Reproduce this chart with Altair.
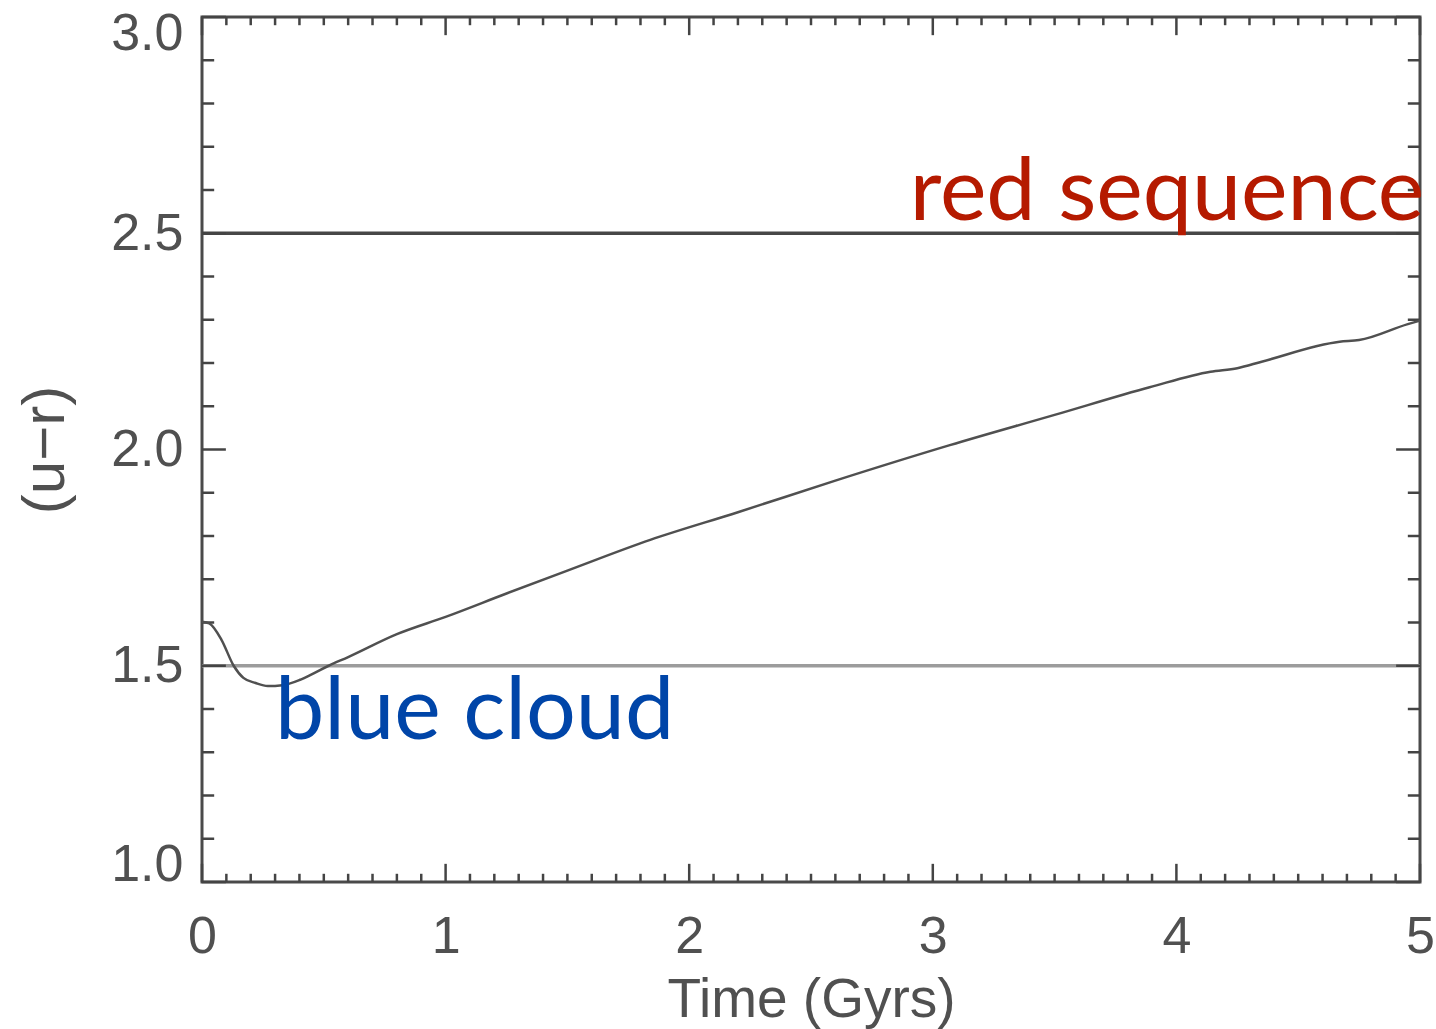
import altair as alt
import pandas as pd

# ---- data ----
time_gyr = [0.0, 0.03, 0.08, 0.13, 0.17, 0.22, 0.27, 0.33, 0.40, 0.45, 0.52, 0.60,
            0.80, 1.0, 1.25, 1.5, 1.84, 2.2, 2.6, 3.07, 3.5, 3.89, 4.14, 4.25,
            4.35, 4.67, 4.75, 4.95, 5.0]
u_minus_r = [1.602, 1.598, 1.56, 1.50, 1.472, 1.46, 1.453, 1.455, 1.467, 1.48, 1.50, 1.52,
             1.573, 1.613, 1.667, 1.72, 1.791, 1.855, 1.928, 2.010, 2.08, 2.144, 2.180, 2.188,
             2.203, 2.249, 2.253, 2.290, 2.298]

threshold_vals = [2.5, 1.5]
threshold_cols = ["#474747", "#9c9c9c"]

label_text = ["red sequence", "blue cloud"]
label_x = [2.905, 0.30]
label_y = [2.531, 1.331]
label_col = ["#B51A00", "#0045A8"]

x_major = [0, 1, 2, 3, 4, 5]
y_major = [1.0, 1.5, 2.0, 2.5, 3.0]
x_minor = [round(i / 10, 1) for i in range(1, 50) if i % 10 != 0]
y_minor = [round(1 + i / 10, 1) for i in range(1, 20) if i % 5 != 0]

X0, X1, Y0, Y1 = 0.0, 5.0, 1.0, 3.0
XMIN_LEN, XMAJ_LEN = 0.019, 0.042    # tick lengths for x ticks (in y data units)
YMIN_LEN, YMAJ_LEN = 0.05, 0.098     # tick lengths for y ticks (in x data units)

xs = alt.Scale(domain=[X0, X1], nice=False, zero=False)
ys = alt.Scale(domain=[Y0, Y1], nice=False, zero=False)

TICK_FONT = "Liberation Sans"
x_axis = alt.Axis(values=x_major, format="d", title="Time  (Gyrs)", grid=False,
                  ticks=False, tickSize=0, domain=False, labelFlush=False,
                  labelFont=TICK_FONT, labelFontSize=52, labelColor="#505050",
                  labelPadding=29, titleFont=TICK_FONT, titleFontSize=55,
                  titleColor="#505050", titleFontWeight="normal", titlePadding=11)
y_axis = alt.Axis(values=y_major, format=".1f", title="(u\u2212r)", grid=False,
                  ticks=False, tickSize=0, domain=False, labelFlush=True,
                  labelFlushOffset=9,
                  labelFont=TICK_FONT, labelFontSize=52, labelColor="#505050",
                  labelPadding=19, titleFont=TICK_FONT, titleFontSize=60,
                  titleColor="#505050", titleFontWeight="normal", titlePadding=34)

curve_df = pd.DataFrame({"t": time_gyr, "c": u_minus_r})
base_line = alt.Chart(curve_df).mark_line(color="#505050", strokeWidth=2.5,
                                          interpolate="monotone").encode(
    x=alt.X("t:Q", scale=xs, axis=x_axis),
    y=alt.Y("c:Q", scale=ys, axis=y_axis),
)

thr_df = pd.DataFrame({"y": threshold_vals, "col": threshold_cols,
                       "x0": [X0, X0], "x1": [X1, X1]})
thr = alt.Chart(thr_df).mark_rule(strokeWidth=3.5).encode(
    x=alt.X("x0:Q", scale=xs), x2="x1:Q",
    y=alt.Y("y:Q", scale=ys), color=alt.Color("col:N", scale=None),
)

# tick marks drawn inward on all four sides
rows = []
for v in x_major:
    rows.append({"x": v, "x2": v, "y": Y0, "y2": Y0 + XMAJ_LEN})
    rows.append({"x": v, "x2": v, "y": Y1, "y2": Y1 - XMAJ_LEN})
for v in x_minor:
    rows.append({"x": v, "x2": v, "y": Y0, "y2": Y0 + XMIN_LEN})
    rows.append({"x": v, "x2": v, "y": Y1, "y2": Y1 - XMIN_LEN})
for v in y_major:
    rows.append({"x": X0, "x2": X0 + YMAJ_LEN, "y": v, "y2": v})
    rows.append({"x": X1, "x2": X1 - YMAJ_LEN, "y": v, "y2": v})
for v in y_minor:
    rows.append({"x": X0, "x2": X0 + YMIN_LEN, "y": v, "y2": v})
    rows.append({"x": X1, "x2": X1 - YMIN_LEN, "y": v, "y2": v})
ticks_df = pd.DataFrame(rows)
ticks = alt.Chart(ticks_df).mark_rule(color="#444444", strokeWidth=2.5).encode(
    x=alt.X("x:Q", scale=xs), x2="x2:Q",
    y=alt.Y("y:Q", scale=ys), y2="y2:Q",
)

lab_df = pd.DataFrame({"x": label_x, "y": label_y, "text": label_text, "col": label_col})
labels = alt.Chart(lab_df).mark_text(font="Lato", fontSize=88, align="left",
                                     baseline="alphabetic").encode(
    x=alt.X("x:Q", scale=xs), y=alt.Y("y:Q", scale=ys), text="text:N",
    color=alt.Color("col:N", scale=None),
)

chart = alt.layer(thr, ticks, base_line, labels).properties(
    width=1218, height=865,
    autosize=alt.AutoSizeParams(type="none"),
    padding={"left": 202, "top": 17, "right": 16, "bottom": 147},
).configure(
    background="white",
    view=alt.ViewConfig(stroke="#4a4a4a", strokeWidth=3),
)

chart.save("out.html", embed_options={"renderer": "svg", "actions": False})
